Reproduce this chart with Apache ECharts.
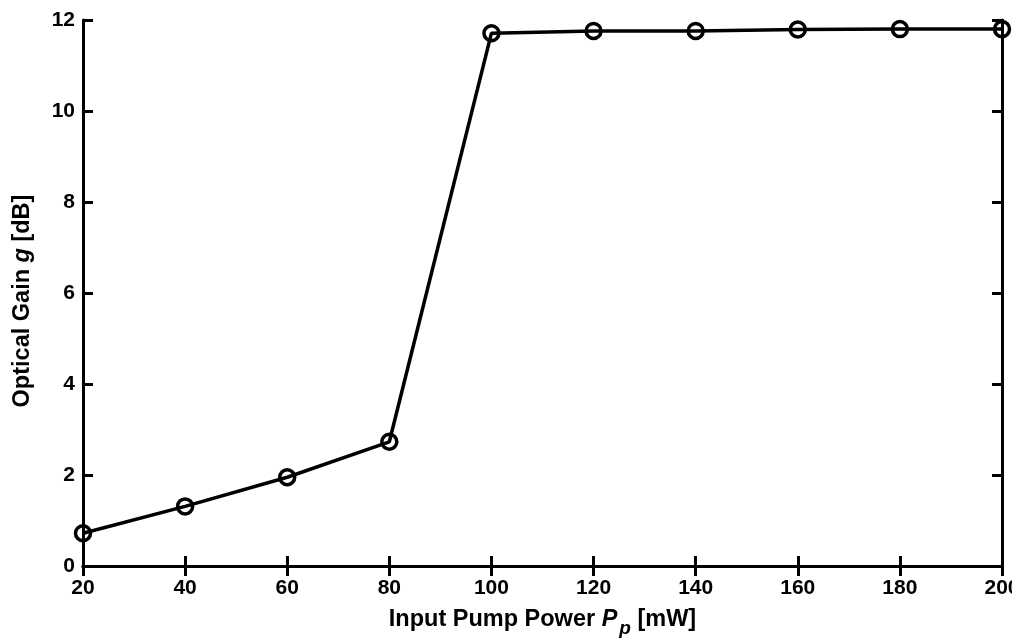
<!DOCTYPE html>
<html>
<head>
<meta charset="utf-8">
<script src="https://cdn.jsdelivr.net/npm/echarts@6/dist/echarts.min.js"></script>
<style>
html,body{margin:0;padding:0;background:#fff;overflow:hidden;}
#wrap{width:1012px;height:640px;overflow:hidden;}
#c{width:1021px;height:640px;}
</style>
</head>
<body>
<div id="wrap"><div id="c"></div></div>
<script>
const pumpPower = [20, 40, 60, 80, 100, 120, 140, 160, 180, 200];
const gainDb = [0.72, 1.31, 1.95, 2.73, 11.71, 11.76, 11.76, 11.79, 11.8, 11.8];
const xTicks = [20, 40, 60, 80, 100, 120, 140, 160, 180, 200];
const yTicks = [0, 2, 4, 6, 8, 10, 12];

const FONT = '"Liberation Sans", Arial, sans-serif';
const chart = echarts.init(document.getElementById('c'), null, {renderer: 'canvas'});

const axisLine = {show: true, lineStyle: {color: '#000', width: 3}};
const tick = {show: true, inside: true, length: 10, lineStyle: {color: '#000', width: 3}};

chart.setOption({
  animation: false,
  backgroundColor: '#fff',
  grid: {left: 83, right: 19, top: 20, bottom: 74, containLabel: false, outerBoundsMode: 'none'},
  xAxis: [{
    type: 'value', min: 20, max: 200, interval: 20,
    axisLine, axisTick: tick, splitLine: {show: false},
    axisLabel: {color: '#000', fontFamily: FONT, fontWeight: 'bold', fontSize: 21, margin: 12,
      formatter: v => xTicks.includes(v) ? String(v) : ''},
    name: '{a|Input Pump Power }{i|P}{s|p}{a| [mW]}',
    nameLocation: 'middle', nameGap: 35,
    nameTextStyle: {
      rich: {
        a: {fontFamily: FONT, fontWeight: 'bold', fontSize: 23.5, color: '#000'},
        i: {fontFamily: FONT, fontWeight: 'bold', fontStyle: 'italic', fontSize: 23.5, color: '#000'},
        s: {fontFamily: FONT, fontWeight: 'bold', fontStyle: 'italic', fontSize: 19, color: '#000', padding: [18, 0, 0, 2]}
      }
    }
  }, {
    type: 'value', min: 20, max: 200, interval: 20, position: 'top',
    axisLine, axisTick: tick, axisLabel: {show: false}, splitLine: {show: false}
  }],
  yAxis: [{
    type: 'value', min: 0, max: 12, interval: 2,
    axisLine, axisTick: tick, splitLine: {show: false},
    axisLabel: {color: '#000', fontFamily: FONT, fontWeight: 'bold', fontSize: 21, margin: 8,
      formatter: v => yTicks.includes(v) ? String(v) : ''},
    name: '{a|Optical Gain }{i|g}{a| [dB]}',
    nameLocation: 'middle', nameGap: 48, nameRotate: 90,
    nameTextStyle: {
      padding: [0, 16, 0, 0],
      rich: {
        a: {fontFamily: FONT, fontWeight: 'bold', fontSize: 23.5, color: '#000'},
        i: {fontFamily: FONT, fontWeight: 'bold', fontStyle: 'italic', fontSize: 23.5, color: '#000'}
      }
    }
  }, {
    type: 'value', min: 0, max: 12, interval: 2, position: 'right',
    axisLine, axisTick: tick, axisLabel: {show: false}, splitLine: {show: false}
  }],
  series: [{
    type: 'line',
    data: pumpPower.map((x, i) => [x, gainDb[i]]),
    symbol: 'circle', symbolSize: 15, showSymbol: true,
    clip: false,
    lineStyle: {color: '#000', width: 3.5},
    itemStyle: {color: 'transparent', borderColor: '#000', borderWidth: 3.5}
  }]
});
</script>
</body>
</html>
